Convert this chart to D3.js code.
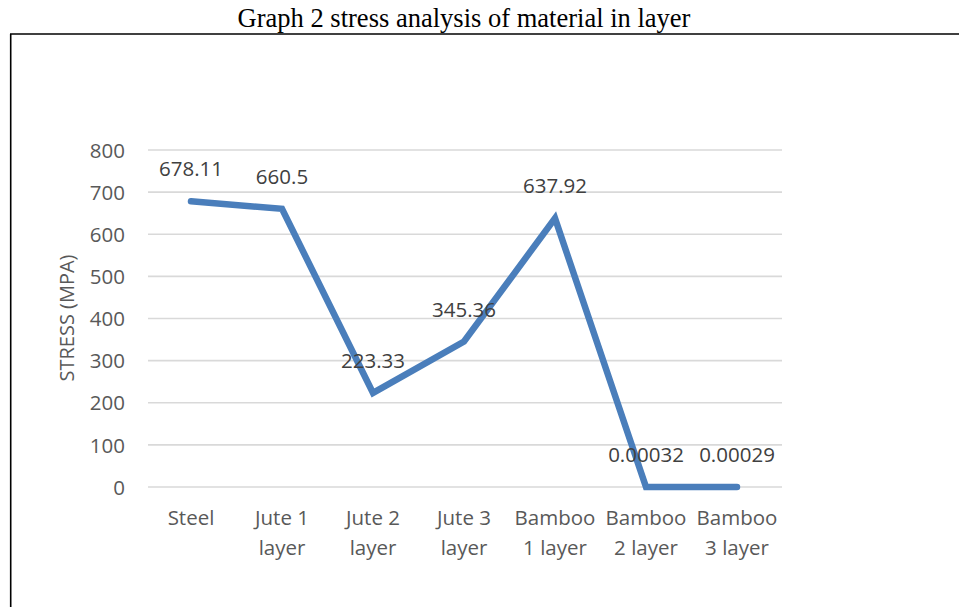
<!DOCTYPE html>
<html><head><meta charset="utf-8">
<script src="https://cdn.jsdelivr.net/npm/d3@7"></script>
<style>html,body{margin:0;padding:0;background:#fff;}svg{display:block;}</style>
</head><body>
<svg id="c" width="959" height="607"></svg>
<script>
const categories = [["Steel"],["Jute 1","layer"],["Jute 2","layer"],["Jute 3","layer"],["Bamboo","1 layer"],["Bamboo","2 layer"],["Bamboo","3 layer"]];
const values = [678.11, 660.5, 223.33, 345.36, 637.92, 0.00032, 0.00029];
const valueLabels = ["678.11","660.5","223.33","345.36","637.92","0.00032","0.00029"];
const yTicks = [0,100,200,300,400,500,600,700,800];
const title = "Graph 2 stress analysis of material in layer";
const yTitle = "STRESS (MPA)";

const svg = d3.select("#c");
const font = "'Open Sans', sans-serif";

// frame
svg.append("line").attr("x1",10).attr("x2",959).attr("y1",34).attr("y2",34).attr("stroke","#000").attr("stroke-width",1.3);
svg.append("line").attr("x1",10.7).attr("x2",10.7).attr("y1",34).attr("y2",607).attr("stroke","#000").attr("stroke-width",1.6);

// title
const t = svg.append("text").attr("x",464).attr("y",27).attr("text-anchor","middle")
  .attr("font-family","'Liberation Serif','Times New Roman',serif").attr("font-size",24).attr("fill","#000").text(title);
const tw = t.node().getComputedTextLength();
t.attr("font-size", 24*453/tw);

const keys = categories.map((d,i)=>i);
const x = d3.scalePoint().domain(keys).range([191, 737]);
const y = d3.scaleLinear().domain([0,800]).range([487,150]);

// gridlines
svg.append("g").selectAll("line").data(yTicks).join("line")
  .attr("x1",148).attr("x2",782).attr("y1",d=>y(d)).attr("y2",d=>y(d))
  .attr("stroke","#d9d9d9").attr("stroke-width",1.6);

// y axis labels
const yAxis = d3.axisLeft(y).tickValues(yTicks).tickSize(0).tickPadding(0);
const gy = svg.append("g").attr("transform","translate(125,0)").call(yAxis);
gy.select(".domain").remove();
gy.selectAll("text").attr("font-family",font).attr("font-size",20.5).attr("fill","#595959").attr("dy","0.35em");

// x axis labels
const gx = svg.append("g");
categories.forEach((lines,i)=>{
  const tx = gx.append("text").attr("text-anchor","middle").attr("font-family",font).attr("font-size",20.5).attr("fill","#595959");
  lines.forEach((l,j)=>{
    tx.append("tspan").attr("x",x(i)).attr("y",525+30*j).text(l);
  });
});

// y title
svg.append("text").attr("transform","translate(74,318) rotate(-90)").attr("text-anchor","middle")
  .attr("font-family",font).attr("font-size",20).attr("fill","#595959").text(yTitle);

// line
const line = d3.line().x((d,i)=>x(i)).y(d=>y(d));
svg.append("path").datum(values).attr("d",line).attr("fill","none")
  .attr("stroke","#4a7ebb").attr("stroke-width",6.5).attr("stroke-linecap","round").attr("stroke-linejoin","miter");

// data labels
svg.append("g").selectAll("text").data(values).join("text")
  .attr("x",(d,i)=>x(i)).attr("y",d=>y(d)-25).attr("text-anchor","middle")
  .attr("font-family",font).attr("font-size",20.5).attr("fill","#404040")
  .text((d,i)=>valueLabels[i]);
</script>
</body></html>
